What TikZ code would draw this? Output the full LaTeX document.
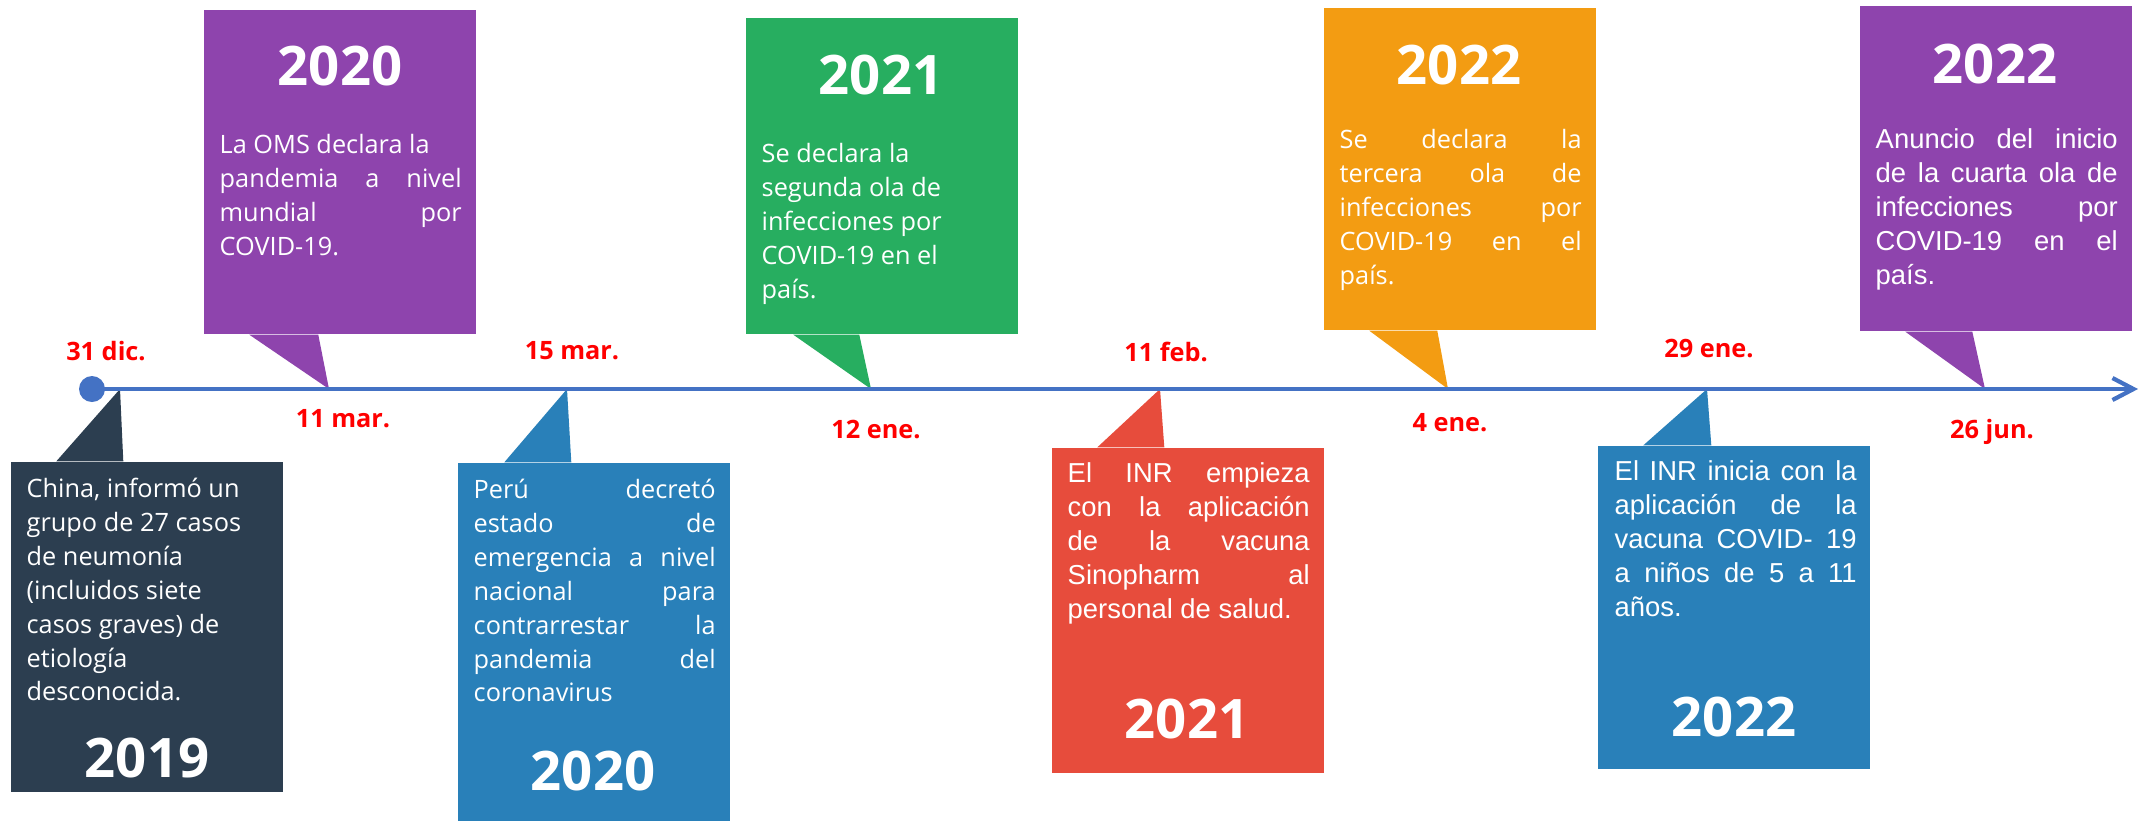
\documentclass[tikz,border=0pt]{standalone}
\usepackage{fontspec}
\setmainfont{Open Sans}
\newfontfamily\arialfont{Liberation Sans}
\usetikzlibrary{arrows.meta}
\definecolor{covidline}{RGB}{68,114,196}
\definecolor{covidslate}{RGB}{44,62,80}
\definecolor{covidpurple}{RGB}{142,68,173}
\definecolor{covidblue}{RGB}{41,128,185}
\definecolor{covidgreen}{RGB}{39,174,96}
\definecolor{covidred}{RGB}{231,76,60}
\definecolor{covidorange}{RGB}{243,156,18}
\definecolor{datered}{RGB}{255,0,0}
\newcommand{\jline}[1]{\makebox[24.2mm][s]{\strut #1}}

\begin{document}
\begin{tikzpicture}[x=0.1mm, y=-0.1mm,
    evbox/.style={rectangle, inner sep=0pt, minimum width=27.2mm},
    yearlabel/.style={anchor=base, text=white, font=\fontsize{15.5}{18}\selectfont\bfseries},
    bodytext/.style={anchor=north west, inner sep=0pt, align=left, text=white,
                     font=\fontsize{7.2}{9.65}\selectfont},
    arialtext/.style={bodytext, font=\arialfont\fontsize{7.8}{9.65}\selectfont},
    datelabel/.style={anchor=base, text=datered, font=\fontsize{7.2}{9}\selectfont\bfseries},
    axisline/.style={line width=1.2pt, draw=covidline, -{Straight Barb[length=2.1mm, width=2.2mm]}}
]
    \useasboundingbox (0,0) rectangle (2141,821);

    % Boxes
    \node[evbox, fill=covidslate, minimum height=33mm] (e2019) at (147,627) {};
    \node[evbox, fill=covidpurple, minimum height=32.4mm] (e2020a) at (340,172) {};
    \node[evbox, fill=covidblue, minimum height=35.8mm] (e2020b) at (594,642) {};
    \node[evbox, fill=covidgreen, minimum height=31.6mm] (e2021a) at (882,176) {};
    \node[evbox, fill=covidred, minimum height=32.5mm] (e2021b) at (1188,610.5) {};
    \node[evbox, fill=covidorange, minimum height=32.2mm] (e2022a) at (1460,169) {};
    \node[evbox, fill=covidblue, minimum height=32.3mm] (e2022b) at (1734,607.5) {};
    \node[evbox, fill=covidpurple, minimum height=32.5mm] (e2022c) at (1996,168.5) {};

    % Tips on the timeline
    \coordinate (t2019) at (120,389);
    \coordinate (t2020a) at (329,389);
    \coordinate (t2020b) at (567,389);
    \coordinate (t2021a) at (871,389);
    \coordinate (t2021b) at (1160,389);
    \coordinate (t2022a) at (1448,389);
    \coordinate (t2022b) at (1707,389);
    \coordinate (t2022c) at (1985,389);

    % Tails
    \fill[covidslate] ([xshift=4.6mm]e2019.north west) -- (t2019) -- ([xshift=11.3mm]e2019.north west) -- cycle;
    \fill[covidpurple] ([xshift=4.6mm]e2020a.south west) -- (t2020a) -- ([xshift=11.5mm]e2020a.south west) -- cycle;
    \fill[covidblue] ([xshift=4.7mm]e2020b.north west) -- (t2020b) -- ([xshift=11.4mm]e2020b.north west) -- cycle;
    \fill[covidgreen] ([xshift=4.8mm]e2021a.south west) -- (t2021a) -- ([xshift=11.4mm]e2021a.south west) -- cycle;
    \fill[covidred] ([xshift=4.6mm]e2021b.north west) -- (t2021b) -- ([xshift=11.3mm]e2021b.north west) -- cycle;
    \fill[covidorange] ([xshift=4.6mm]e2022a.south west) -- (t2022a) -- ([xshift=11.4mm]e2022a.south west) -- cycle;
    \fill[covidblue] ([xshift=4.6mm]e2022b.north west) -- (t2022b) -- ([xshift=11.4mm]e2022b.north west) -- cycle;
    \fill[covidpurple] ([xshift=4.6mm]e2022c.south west) -- (t2022c) -- ([xshift=11.3mm]e2022c.south west) -- cycle;

    % Timeline
    \node[circle, fill=covidline, inner sep=0pt, minimum size=2.6mm] (origin) at (92,389) {};
    \coordinate (arrowend) at (2138,389);
    \draw[axisline] (origin.center) -- (arrowend);

    % Years
    \node[yearlabel] (y2019) at (147,777) {2019};
    \node[yearlabel] (y2020a) at (340,85) {2020};
    \node[yearlabel] (y2020b) at (593,790) {2020};
    \node[yearlabel] (y2021a) at (881,94) {2021};
    \node[yearlabel] (y2021b) at (1187,738) {2021};
    \node[yearlabel] (y2022a) at (1459,84) {2022};
    \node[yearlabel] (y2022b) at (1734,736) {2022};
    \node[yearlabel] (y2022c) at (1995,83) {2022};

    % Texts
    \node[bodytext] (x2019) at (26,473) {\strut China, informó un\\ grupo de 27 casos\\ de neumonía\\
        (incluidos siete\\ casos graves) de\\ etiología\\ desconocida.};
    \node[bodytext] (x2020a) at (219,129) {\strut La OMS declara la\\ \jline{pandemia a nivel}\\
        \jline{mundial por}\\ COVID-19.};
    \node[bodytext] (x2020b) at (473,474) {\jline{Perú decretó}\\ \jline{estado de}\\
        \jline{emergencia a nivel}\\ \jline{nacional para}\\ \jline{contrarrestar la}\\
        \jline{pandemia del}\\ coronavirus};
    \node[bodytext] (x2021a) at (761,138) {\strut Se declara la\\ segunda ola de\\
        infecciones por\\ COVID-19 en el\\ país.};
    \node[arialtext] (x2021b) at (1067,458) {\jline{El INR empieza}\\ \jline{con la aplicación}\\
        \jline{de la vacuna}\\ \jline{Sinopharm al}\\ personal de salud.};
    \node[bodytext] (x2022a) at (1339,124) {\jline{Se declara la}\\ \jline{tercera ola de}\\
        \jline{infecciones por}\\ \jline{COVID-19 en el}\\ país.};
    \node[arialtext] (x2022b) at (1614,456) {\jline{El INR inicia con la}\\ \jline{aplicación de la}\\
        \jline{vacuna COVID- 19}\\ \jline{a niños de 5 a 11}\\ años.};
    \node[arialtext] (x2022c) at (1875,124) {\jline{Anuncio del inicio}\\ \jline{de la cuarta ola de}\\
        \jline{infecciones por}\\ \jline{COVID-19 en el}\\ país.};

    % Dates
    \node[datelabel] (d1) at (106,360) {31 dic.};
    \node[datelabel] (d2) at (343,427) {11 mar.};
    \node[datelabel] (d3) at (572,359) {15 mar.};
    \node[datelabel] (d4) at (876,438) {12 ene.};
    \node[datelabel] (d5) at (1166,361) {11 feb.};
    \node[datelabel] (d6) at (1450,431) {4 ene.};
    \node[datelabel] (d7) at (1709,357) {29 ene.};
    \node[datelabel] (d8) at (1992,438) {26 jun.};
\end{tikzpicture}
\end{document}
